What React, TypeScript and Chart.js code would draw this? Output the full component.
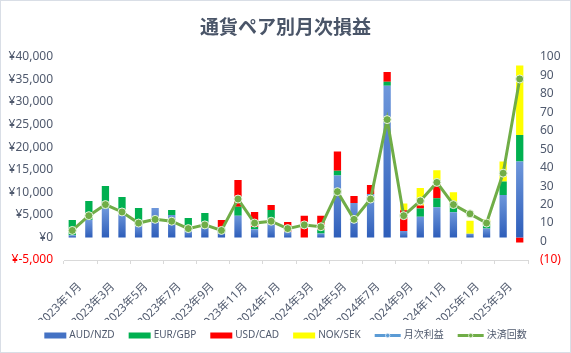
import React, { useEffect, useRef } from 'react';
import { Chart, registerables } from 'chart.js';

Chart.register(...registerables);

const FONT = '"Noto Sans", "Noto Sans CJK JP", sans-serif';
const TITLE_FONT = '"Noto Sans CJK JP", "Noto Sans", sans-serif';
const TEXT = '#505A6E';

const title = '通貨ペア別月次損益';

const months = [
  '2023年1月', '2023年2月', '2023年3月', '2023年4月', '2023年5月', '2023年6月',
  '2023年7月', '2023年8月', '2023年9月', '2023年10月', '2023年11月', '2023年12月',
  '2024年1月', '2024年2月', '2024年3月', '2024年4月', '2024年5月', '2024年6月',
  '2024年7月', '2024年8月', '2024年9月', '2024年10月', '2024年11月', '2024年12月',
  '2025年1月', '2025年2月', '2025年3月', '2025年4月',
];

const audNzd = [500, 3850, 6400, 5800, 2740, 6520, 4960, 1600, 3300, 2300, 4800, 1800, 3100, 1260, 0, 890, 13700, 7630, 9630, 33600, 1400, 4600, 6700, 5600, 800, 2000, 9400, 16800];
const eurGbp = [3350, 4220, 5000, 3160, 3780, 0, 1110, 2700, 2110, 0, 2000, 500, 2960, 0, 0, 740, 1040, 0, 0, 900, 0, 1800, 2000, 2000, 0, 750, 3000, 5900];
const usdCad = [0, 0, 0, 0, 0, 0, 0, 0, 0, 1550, 5940, 3330, 1130, 2150, 4810, 3180, 4300, 1560, 2000, 2150, 4600, 670, 3200, 0, 0, 0, 0, -1100];
const nokSek = [0, 0, 0, 0, 0, 0, 0, 0, 0, 0, 0, 0, 0, 0, 0, 0, 0, 0, 0, 0, 1500, 3900, 3000, 2400, 2900, 1200, 4400, 15400];
const monthlyProfit: (number | null)[] = [];
const tradeCount = [6, 14, 20, 16, 10, 12, 11, 7, 9, 6, 23, 10, 11, 7, 9, 8, 27, 12, 23, 66, 14, 22, 32, 20, 15, 10, 37, 88];

const blueGradient = (ctx: any) => {
  const chart = ctx.chart;
  const y = chart.scales && chart.scales.y;
  if (!y || ctx.type !== 'data' || !chart.chartArea) return '#4472C4';
  const v = ctx.raw as number;
  const top = y.getPixelForValue(v);
  const bottom = y.getPixelForValue(0);
  if (!isFinite(top) || !isFinite(bottom) || Math.abs(bottom - top) < 0.5) return '#4472C4';
  const g = chart.ctx.createLinearGradient(0, top, 0, bottom);
  g.addColorStop(0, '#6E97DB');
  g.addColorStop(1, '#2E5EBA');
  return g;
};

const bgPlugin = {
  id: 'bgBorder',
  beforeDraw(chart: any) {
    const c = chart.ctx;
    c.save();
    c.fillStyle = '#FFFFFF';
    c.fillRect(0, 0, chart.width, chart.height);
    c.restore();
  },
  afterDraw(chart: any) {
    const c = chart.ctx;
    c.save();
    c.strokeStyle = '#D9DEE6';
    c.lineWidth = 1;
    c.strokeRect(0.5, 0.5, chart.width - 1, chart.height - 1);
    c.restore();
  },
};

const legendPlugin = {
  id: 'customLegend',
  afterDraw(chart: any) {
    const c = chart.ctx;
    const items = chart.data.datasets.map((ds: any) => ({
      label: ds.label as string,
      kind: ds.type === 'line' ? 'line' : 'bar',
      color: ds.legendColor as string,
    }));
    c.save();
    c.font = `10px ${FONT}`;
    const boxW = 22;
    const lineW = 26;
    const gapText = 3;
    const gapItem = 14;
    const widths = items.map((it: any) => (it.kind === 'line' ? lineW : boxW) + gapText + c.measureText(it.label).width);
    const total = widths.reduce((a: number, b: number) => a + b, 0) + gapItem * (items.length - 1);
    let x = (chart.width - total) / 2;
    const y = chart.height - 17.5;
    items.forEach((it: any, i: number) => {
      let w = boxW;
      if (it.kind === 'bar') {
        c.fillStyle = it.color;
        c.fillRect(x, y - 3, boxW, 6);
      } else {
        w = lineW;
        c.strokeStyle = it.color;
        c.lineWidth = 3;
        c.beginPath();
        c.moveTo(x, y);
        c.lineTo(x + lineW, y);
        c.stroke();
        c.beginPath();
        c.arc(x + lineW / 2, y, 2.2, 0, Math.PI * 2);
        c.fillStyle = it.color;
        c.fill();
        c.lineWidth = 0.8;
        c.strokeStyle = 'rgba(255,255,255,0.8)';
        c.stroke();
      }
      c.fillStyle = TEXT;
      c.textBaseline = 'middle';
      c.textAlign = 'left';
      c.fillText(it.label, x + w + gapText, y);
      x += widths[i] + gapItem;
    });
    c.restore();
  },
};

export default function App() {
  const canvasRef = useRef<HTMLCanvasElement | null>(null);

  useEffect(() => {
    document.body.style.margin = '0';
    const canvas = canvasRef.current;
    if (!canvas) return;

    const barCommon = {
      type: 'bar' as const,
      yAxisID: 'y',
      stack: 'pairs',
      order: 2,
      barPercentage: 0.44,
      categoryPercentage: 1,
    };

    const chart = new Chart(canvas, {
      type: 'bar',
      data: {
        labels: months,
        datasets: [
          { ...barCommon, label: 'AUD/NZD', data: audNzd, backgroundColor: blueGradient, legendColor: '#4472C4' } as any,
          { ...barCommon, label: 'EUR/GBP', data: eurGbp, backgroundColor: '#00B050', legendColor: '#00B050' } as any,
          { ...barCommon, label: 'USD/CAD', data: usdCad, backgroundColor: '#FF0000', legendColor: '#FF0000' } as any,
          { ...barCommon, label: 'NOK/SEK', data: nokSek, backgroundColor: '#FFFF00', legendColor: '#FFFF00' } as any,
          {
            type: 'line', label: '月次利益', data: monthlyProfit, yAxisID: 'y', order: 1,
            borderColor: '#5B9BD5', backgroundColor: '#5B9BD5', borderWidth: 3, pointRadius: 0,
            legendColor: '#5B9BD5',
          } as any,
          {
            type: 'line', label: '決済回数', data: tradeCount, yAxisID: 'y1', order: 0,
            borderColor: '#70AD47', backgroundColor: '#70AD47', borderWidth: 3, tension: 0,
            pointRadius: 4, pointBackgroundColor: '#70AD47', pointBorderColor: 'rgba(235,245,230,0.95)',
            pointBorderWidth: 1, legendColor: '#70AD47',
          } as any,
        ],
      },
      options: {
        responsive: false,
        animation: false,
        devicePixelRatio: 1,
        layout: { padding: { left: 8, right: 8, top: 0, bottom: 33 } },
        plugins: {
          legend: { display: false },
          tooltip: { enabled: false },
          title: {
            display: true,
            text: title,
            color: '#4A5568',
            font: { family: TITLE_FONT, size: 19, weight: 'bold' },
            padding: { top: 15, bottom: 19 },
          },
        },
        scales: {
          x: {
            stacked: true,
            offset: true,
            grid: {
              offset: true,
              drawOnChartArea: false,
              drawTicks: true,
              tickLength: 4,
              color: (c: any) => (c.index === undefined || c.index % 2 === 0 ? '#D9D9D9' : 'rgba(0,0,0,0)'),
            },
            border: { display: true, color: '#D9D9D9' },
            ticks: {
              autoSkip: false,
              minRotation: 45,
              maxRotation: 45,
              padding: 16,
              labelOffset: 7.5,
              color: TEXT,
              font: { family: FONT, size: 11.5 },
              callback: (_v: any, i: number) => (i % 2 === 0 ? months[i] : ''),
            },
            afterFit: (s: any) => { s.height = 60; },
          },
          y: {
            stacked: true,
            position: 'left',
            min: -5000,
            max: 40000,
            grid: { display: false, drawTicks: false },
            border: { display: false },
            ticks: {
              stepSize: 5000,
              padding: 11,
              color: (c: any) => (c.tick && c.tick.value < 0 ? '#FF0000' : TEXT),
              font: { family: FONT, size: 12 },
              callback: (v: any) => '¥' + Number(v).toLocaleString('en-US'),
            },
            afterFit: (s: any) => { s.width = 56; },
          },
          y1: {
            position: 'right',
            min: -10,
            max: 100,
            grid: { display: false, drawTicks: false },
            border: { display: false },
            ticks: {
              stepSize: 10,
              padding: 12,
              color: (c: any) => (c.tick && c.tick.value < 0 ? '#FF0000' : TEXT),
              font: { family: FONT, size: 12 },
              callback: (v: any) => (Number(v) < 0 ? '(' + Math.abs(Number(v)) + ')' : String(v)),
            },
            afterFit: (s: any) => { s.width = 35; },
          },
        },
      } as any,
      plugins: [bgPlugin, legendPlugin],
    });

    return () => chart.destroy();
  }, []);

  return (
    <div style={{ width: 571, height: 353 }}>
      <canvas ref={canvasRef} width={571} height={353} style={{ display: 'block' }} />
    </div>
  );
}
